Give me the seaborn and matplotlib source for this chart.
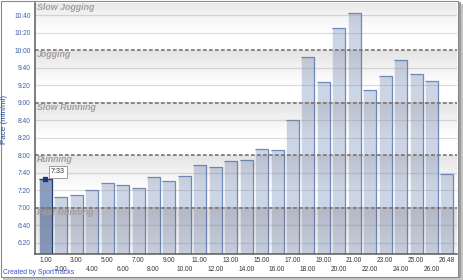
import numpy as np
import pandas as pd
import matplotlib
matplotlib.use("Agg")
import matplotlib.pyplot as plt
import matplotlib.transforms as mtransforms
from matplotlib.patches import Rectangle
from matplotlib.ticker import FuncFormatter
import seaborn as sns

# ---------------- data ----------------
mile_labels = ["1.00", "2.00", "3.00", "4.00", "5.00", "6.00", "7.00", "8.00", "9.00",
               "10.00", "11.00", "12.00", "13.00", "14.00", "15.00", "16.00", "17.00",
               "18.00", "19.00", "20.00", "21.00", "22.00", "23.00", "24.00", "25.00",
               "26.00", "26.48"]
paces = ["7:33", "7:12", "7:15", "7:20", "7:28", "7:26", "7:22", "7:35", "7:31",
         "7:36", "7:49", "7:46", "7:53", "7:54", "8:07", "8:06", "8:40",
         "9:52", "9:24", "10:25", "10:42", "9:15", "9:31", "9:49", "9:33",
         "9:25", "7:38"]
zone_names = ["Fast Running", "Running", "Slow Running", "Jogging", "Slow Jogging"]
zone_tops = ["7:00", "8:00", "9:00", "10:00", "11:00"]
y_tick_labels = ["6:20", "6:40", "7:00", "7:20", "7:40", "8:00", "8:20", "8:40",
                 "9:00", "9:20", "9:40", "10:00", "10:20", "10:40"]
y_range = ["6:07", "10:54"]
selected_index = 0
y_label = "Pace (min/mi)"
credit = "Created by SportTracks"


def to_sec(s):
    m, ss = s.split(":")
    return int(m) * 60 + int(ss)


def fmt(v, pos=None):
    v = int(round(v))
    return f"{v // 60}:{v % 60:02d}"


secs = [to_sec(p) for p in paces]
ymin, ymax = [to_sec(v) for v in y_range]

# ---------------- figure ----------------
sns.set_style("white")
plt.rcParams["font.family"] = ["Liberation Sans", "DejaVu Sans"]

W, H = 464, 280
fig = plt.figure(figsize=(W / 100, H / 100), dpi=100)
fig.patch.set_facecolor("white")


def px_rect(x0, y0, x1, y1, **kw):
    return Rectangle((x0 / W, 1 - y1 / H), (x1 - x0) / W, (y1 - y0) / H,
                     transform=fig.transFigure, **kw)


fig.patches.append(px_rect(3, 4, 463, 280, facecolor="#c4c4c4", edgecolor="none", zorder=-3))
fig.patches.append(px_rect(1.5, 2, 461, 278, facecolor="#9c9c9c", edgecolor="none", zorder=-2.5))
fig.patches.append(px_rect(0.5, 0.5, 458.5, 276.5, facecolor="white", edgecolor="#8a8a8a",
                           linewidth=0.8, zorder=-2))

ax = fig.add_axes([35 / W, 1 - 254 / H, (457 - 35) / W, (254 - 3) / H])
ax.set_facecolor("white")

df = pd.DataFrame({"mile": mile_labels, "pace": secs})
bar_color = "#ccd5e5"
sel_color = "#8a9ec0"
palette = [sel_color if i == selected_index else bar_color for i in range(len(mile_labels))]
sns.barplot(data=df, x="mile", y="pace", hue="mile", palette=palette, legend=False,
            width=0.84, saturation=1, edgecolor="none", linewidth=0, ax=ax, zorder=2)

xlim = (-0.67, len(mile_labels) - 1 + 0.65)
ax.set_autoscale_on(False)
ax.set_xlim(*xlim)
ax.set_ylim(ymin, ymax)

# bar outlines: highlight on left, blue on top and right
patches = sorted(ax.patches, key=lambda p: p.get_x())
for i, p in enumerate(patches):
    x0, w = p.get_x(), p.get_width()
    top = p.get_y() + p.get_height()
    ec = "#1f3f78" if i == selected_index else "#6f8bbd"
    ax.plot([x0, x0], [ymin, top], color="white", lw=0.7, alpha=0.8, zorder=3,
            solid_capstyle="butt")
    ax.plot([x0, x0 + w, x0 + w], [top, top, ymin], color=ec, lw=0.9, zorder=3,
            solid_joinstyle="miter", solid_capstyle="butt")

# zone gradient overlays (translucent, over bars)
bottoms = [ymin] + [to_sec(t) for t in zone_tops[:-1]]
for k, (name, t) in enumerate(zip(zone_names, zone_tops)):
    top = to_sec(t)
    bot = bottoms[k]
    n = 200
    yy = np.linspace(bot, top, n)
    dist = top - yy
    if k == 0:
        a0, fade = 0.21, 75.0
    else:
        a0, fade = 0.15, 40.0
    alpha = a0 * np.clip(1 - dist / fade, 0, 1) ** 1.1
    img = np.zeros((n, 1, 4))
    img[..., 0] = 0.32
    img[..., 1] = 0.28
    img[..., 2] = 0.28
    img[:, 0, 3] = alpha
    ax.imshow(img, extent=(xlim[0], xlim[1], bot, top), origin="lower", aspect="auto",
              interpolation="bilinear", zorder=4)

ax.set_xlim(*xlim)
ax.set_ylim(ymin, ymax)

# gridlines
y_ticks = [to_sec(v) for v in y_tick_labels]
zone_secs = [to_sec(t) for t in zone_tops]
for yv in y_ticks:
    if yv in zone_secs:
        continue
    ax.axhline(yv, color="#8a8a8a", alpha=0.3, lw=0.9, zorder=5)
for yv in zone_secs:
    if yv < ymax:
        ax.axhline(yv, color="#7c7272", lw=1.2, ls=(0, (2.2, 1.4)), zorder=6)

# zone labels
trans = mtransforms.blended_transform_factory(ax.transAxes, ax.transData)
for name, t in zip(zone_names, zone_tops):
    yv = min(to_sec(t), ymax)
    ax.text(0.005, yv, name, transform=trans, ha="left", va="top", fontsize=6.4,
            fontweight="bold", style="italic", color="#a29e9e", zorder=7)

# selected bar marker + value box
sel_val = secs[selected_index]
ax.plot(selected_index, sel_val, marker="s", ms=2.6, color="#1c3a72", zorder=8)
ax.annotate(paces[selected_index], xy=(selected_index, sel_val), xytext=(9, 5),
            textcoords="offset points", ha="center", va="center", fontsize=5.2,
            color="#333333", zorder=9,
            bbox=dict(boxstyle="square,pad=0.3", fc="white", ec="#8e8e8e", lw=0.6))

# axes styling
for s in ["top", "right"]:
    ax.spines[s].set_visible(False)
for s in ["left", "bottom"]:
    ax.spines[s].set_color("#5a5a5a")
    ax.spines[s].set_linewidth(1.1)
    ax.spines[s].set_zorder(10)

ax.set_yticks(y_ticks)
ax.yaxis.set_major_formatter(FuncFormatter(fmt))
ax.tick_params(axis="y", length=2.2, width=0.7, pad=0.8, labelsize=4.8,
               colors="#5a5a5a", labelcolor="#3f61a6")

idx = list(range(len(mile_labels)))
ax.set_xticks(idx[0::2], labels=mile_labels[0::2])
ax.set_xticks(idx[1::2], labels=mile_labels[1::2], minor=True)
ax.tick_params(axis="x", which="major", length=1.5, width=0.7, pad=0.6, labelsize=4.7,
               colors="#5a5a5a", labelcolor="#333333")
ax.tick_params(axis="x", which="minor", length=8.2, width=0.7, pad=0.2, labelsize=4.7,
               colors="#5a5a5a", labelcolor="#333333")
ax.set_xlabel("")
ax.set_ylabel(y_label, fontsize=5.8, color="#2b4c9b")
ax.yaxis.set_label_coords(-0.065, 0.538)

fig.text(3 / W, 1 - 272 / H, credit, fontsize=4.9, color="#3553d0", ha="left", va="center")

fig.savefig("out.png", dpi=100)
